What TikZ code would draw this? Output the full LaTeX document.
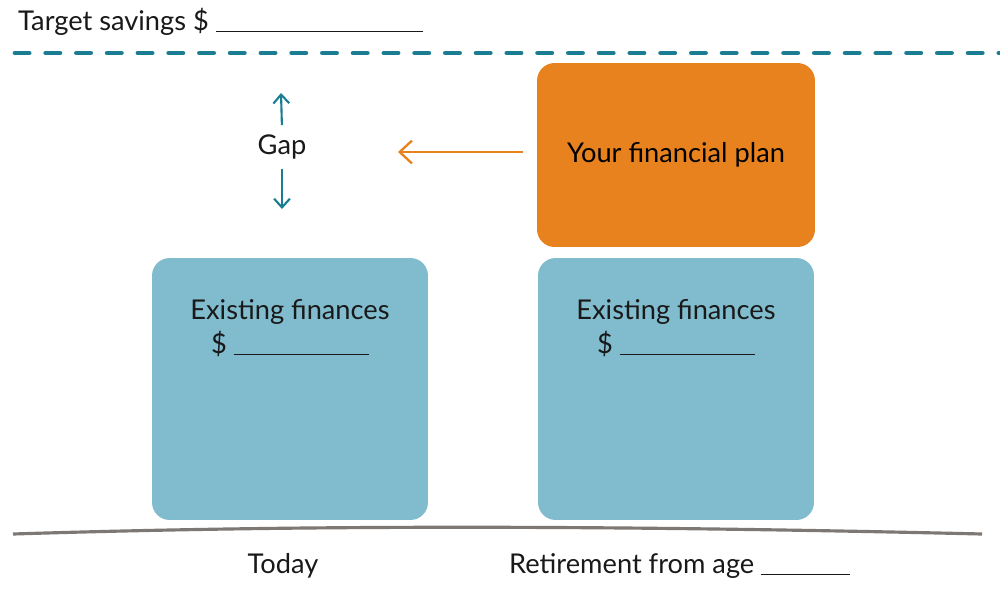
\documentclass[tikz,border=0pt]{standalone}
\usepackage{fontspec}
\setmainfont{Lato}
\usetikzlibrary{positioning, arrows.meta}
\definecolor{planorange}{RGB}{232,130,30}
\definecolor{fundblue}{RGB}{128,188,205}
\definecolor{lineteal}{RGB}{26,125,145}
\definecolor{groundgray}{RGB}{125,120,115}

\begin{document}
\begin{tikzpicture}[x=0.02cm, y=-0.02cm,
  fundbox/.style={rounded corners=10pt, minimum width=5.52cm, minimum height=5.24cm, fill=fundblue, draw=none},
  planbox/.style={rounded corners=10pt, minimum width=5.56cm, minimum height=3.68cm, fill=planorange, draw=none, font=\fontsize{15.5}{18}\selectfont},
  txt/.style={font=\fontsize{15.5}{18}\selectfont, text=black!90, align=center},
  gaparr/.style={-{Straight Barb[length=5pt, width=9pt]}, line width=1.2pt, color=lineteal},
  planarr/.style={-{Straight Barb[length=7pt, width=13pt]}, line width=1.3pt, color=planorange}]
  \useasboundingbox (0,0) rectangle (1000,609);
  % target line
  \node[txt, anchor=base west] (target) at (12,30) {Target savings \$ \rule[-1pt]{4.15cm}{0.6pt}};
  \coordinate (targetL) at (15,53);
  \coordinate (targetR) at (1000,53);
  \draw[lineteal, line width=2.8pt, line cap=round, dash pattern=on 8pt off 9.5pt] (targetL) -- (targetR);
  % boxes
  \node[fundbox] (now) at (290,389) {};
  \node[fundbox] (later) at (676,389) {};
  \node[planbox] (plan) at (676,155) {Your financial plan};
  \node[txt, below=0.72cm of now.north] (nowtxt) {Existing finances\\[1pt]\$ \rule[-1pt]{2.7cm}{0.6pt}};
  \node[txt, below=0.72cm of later.north] (latertxt) {Existing finances\\[1pt]\$ \rule[-1pt]{2.7cm}{0.6pt}};
  % gap
  \node[txt] (gap) at (282,147) {Gap};
  \coordinate (gaptop) at (281,93);
  \coordinate (gapbot) at (282,209);
  \draw[gaparr, shorten <=2pt] (gap.north) -- (gaptop);
  \draw[gaparr, shorten <=2pt] (gap.south) -- (gapbot);
  \coordinate (plantip) at (398,152);
  \draw[planarr, shorten <=8pt] (plan.west |- plantip) -- (plantip);
  % ground line
  \coordinate (groundL) at (13,534);
  \coordinate (groundR) at (982,534);
  \draw[groundgray, line width=1.8pt] (groundL) .. controls (300,525) and (600,525) .. (groundR);
  \node[txt] (today) at (283,566) {Today};
  \node[txt, anchor=west] (retire) at (503,566) {Retirement from age \rule[-1pt]{1.78cm}{0.6pt}};
\end{tikzpicture}
\end{document}
